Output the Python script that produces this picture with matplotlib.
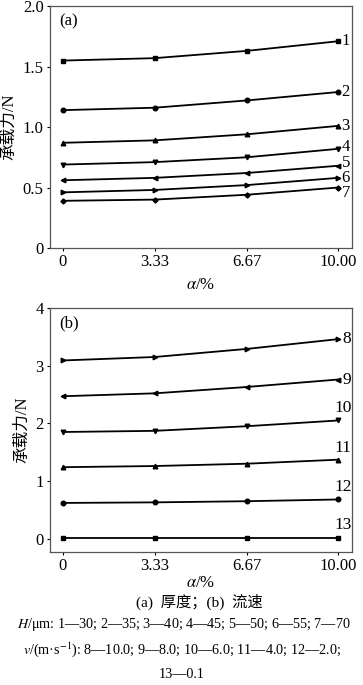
import matplotlib
matplotlib.use("Agg")
import matplotlib.pyplot as plt

plt.rcParams['font.family'] = ['Liberation Serif', 'Noto Sans CJK SC']
plt.rcParams['mathtext.fontset'] = 'stix'

alpha = [0, 3.33, 6.67, 10.00]
alpha_labels = ["0", "3.33", "6.67", "10.00"]

# (a) thickness H
thick_names = ["1", "2", "3", "4", "5", "6", "7"]
thick_markers = ["s", "o", "^", "v", "<", ">", "D"]
thick_vals = [
    [1.55, 1.57, 1.63, 1.71],
    [1.14, 1.16, 1.22, 1.29],
    [0.87, 0.89, 0.94, 1.01],
    [0.69, 0.71, 0.75, 0.82],
    [0.56, 0.58, 0.62, 0.68],
    [0.46, 0.48, 0.52, 0.58],
    [0.39, 0.40, 0.44, 0.50],
]
# small vertical nudges so the end labels 4-7 don't collide
thick_label_dy = [0, 0, 0, 0.015, 0.02, 0.0, -0.045]

# (b) flow velocity v
flow_names = ["8", "9", "10", "11", "12", "13"]
flow_markers = [">", "<", "v", "^", "o", "s"]
flow_vals = [
    [3.09, 3.15, 3.29, 3.46],
    [2.47, 2.52, 2.63, 2.76],
    [1.85, 1.87, 1.95, 2.05],
    [1.24, 1.26, 1.30, 1.37],
    [0.62, 0.63, 0.65, 0.68],
    [0.02, 0.02, 0.02, 0.02],
]

fig = plt.figure(figsize=(3.63, 6.85), dpi=100)
ax1 = fig.add_axes([0.1377, 0.638, 0.832, 0.353])
ax2 = fig.add_axes([0.1377, 0.1942, 0.832, 0.3562])


def style(ax, pad):
    for s in ax.spines.values():
        s.set_color("#555555")
        s.set_linewidth(0.9)
    ax.tick_params(direction="out", length=2.5, width=0.8, labelsize=12, pad=2)
    ax.set_xticks(alpha)
    ax.set_xticklabels(alpha_labels)
    ax.set_xlim(-0.47, 10.5)
    ax.set_ylabel("承载力/N", fontsize=12, labelpad=4)
    ax.set_xlabel(r"$\alpha$/%", fontsize=12, labelpad=pad)


for name, m, v, dy in zip(thick_names, thick_markers, thick_vals, thick_label_dy):
    ms = 2.6 if m == "D" else 3.3
    ax1.plot(alpha, v, color="black", lw=1.3, marker=m, ms=ms)
    ax1.text(10.27, v[-1] + dy, name, fontsize=12, va="center", ha="center")
style(ax1, 5)
ax1.set_ylim(0, 2.0)
ax1.set_yticks([0, 0.5, 1.0, 1.5, 2.0])
ax1.set_yticklabels(["0", "0.5", "1.0", "1.5", "2.0"])
ax1.text(0.03, 0.97, "(a)", transform=ax1.transAxes, fontsize=12, va="top")

for name, m, v in zip(flow_names, flow_markers, flow_vals):
    ax2.plot(alpha, v, color="black", lw=1.3, marker=m, ms=3.3)
    if name in ("8", "9"):
        ax2.text(10.3, v[-1], name, fontsize=12.5, va="center", ha="center")
    else:
        ax2.text(10.18, v[-1] + 0.21, name, fontsize=12.5, va="center", ha="center")
style(ax2, 0.5)
ax2.set_ylim(-0.23, 4.0)
ax2.set_yticks([0, 1, 2, 3, 4])
ax2.text(0.03, 0.97, "(b)", transform=ax2.transAxes, fontsize=12, va="top")

fig.text(0.55, 0.122, "(a)  厚度；(b)  流速", ha="center", va="center", fontsize=11)
fig.text(0.505, 0.088, r"$H$/μm: 1—30; 2—35; 3—40; 4—45; 5—50; 6—55; 7—70",
         ha="center", va="center", fontsize=10.2)
fig.text(0.5, 0.051, r"$v$/(m·s$^{-1}$): 8—10.0; 9—8.0; 10—6.0; 11—4.0; 12—2.0;",
         ha="center", va="center", fontsize=10.2)
fig.text(0.5, 0.015, "13—0.1", ha="center", va="center", fontsize=10.2)

fig.savefig("out.png", dpi=100)
